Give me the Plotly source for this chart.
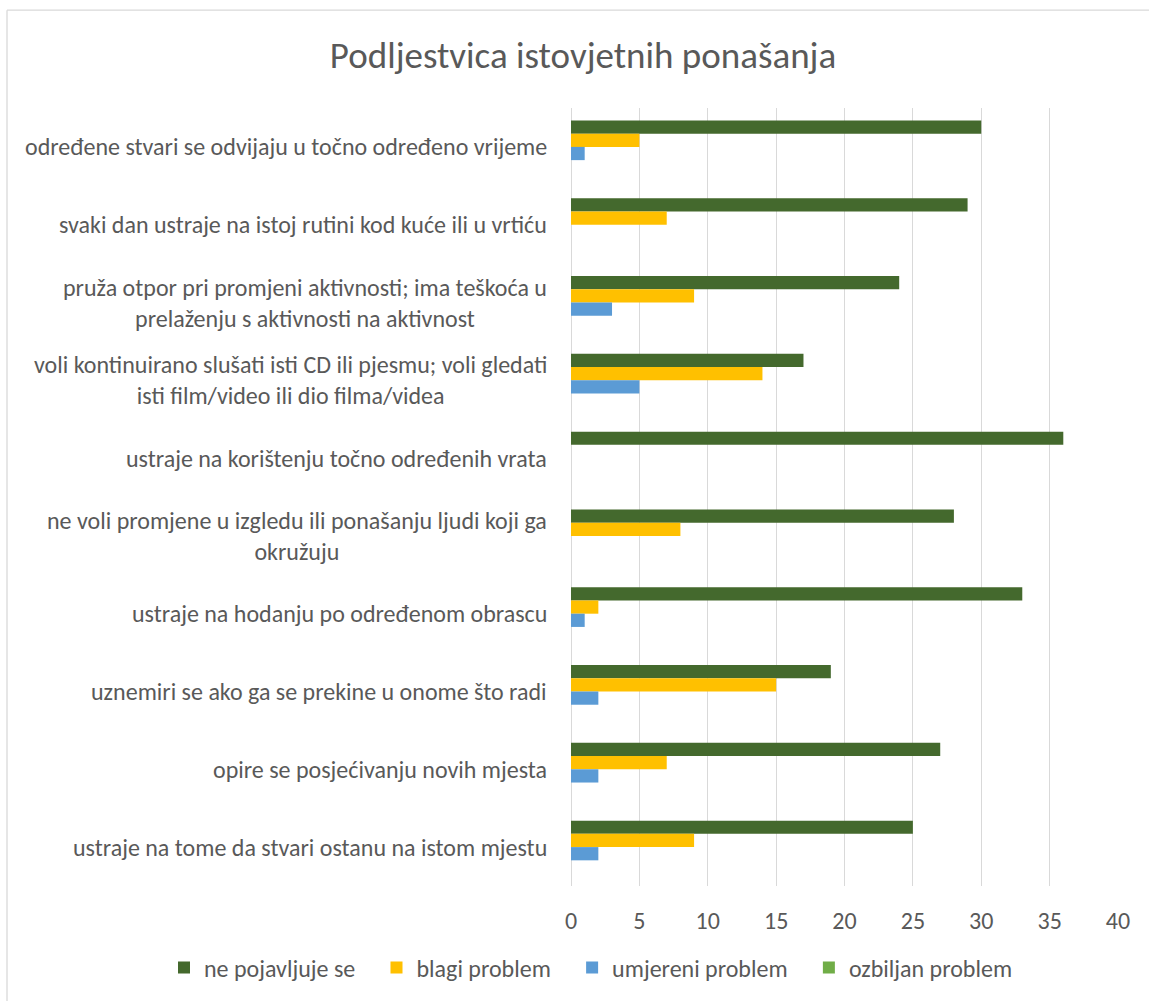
import plotly.graph_objects as go

# ---- data ----
categories = [
    "određene stvari se odvijaju u točno određeno vrijeme",
    "svaki dan ustraje na istoj rutini kod kuće ili u vrtiću",
    "pruža otpor pri promjeni aktivnosti; ima teškoća u<br>prelaženju s aktivnosti na aktivnost",
    "voli kontinuirano slušati isti CD ili pjesmu; voli gledati<br>isti film/video ili dio filma/videa",
    "ustraje na korištenju točno određenih vrata",
    "ne voli promjene u izgledu ili ponašanju ljudi koji ga<br>okružuju",
    "ustraje na hodanju po određenom obrascu",
    "uznemiri se ako ga se prekine u onome što radi",
    "opire se posjećivanju novih mjesta",
    "ustraje na tome da stvari ostanu na istom mjestu",
]
series_names = ["ne pojavljuje se", "blagi problem", "umjereni problem", "ozbiljan problem"]
ne_pojavljuje = [30, 29, 24, 17, 36, 28, 33, 19, 27, 25]
blagi = [5, 7, 9, 14, 0, 8, 2, 15, 7, 9]
umjereni = [1, 0, 3, 5, 0, 0, 1, 2, 2, 2]
ozbiljan = [0, 0, 0, 0, 0, 0, 0, 0, 0, 0]
x_ticks = [0, 5, 10, 15, 20, 25, 30, 35, 40]
title_text = "Podljestvica istovjetnih ponašanja"

colors = ["#44692D", "#FFC000", "#5B9BD5", "#70AD47"]
FONT = "Carlito, Calibri, Lato, sans-serif"
TXT = "#595959"
LEGEND_PAD = "\u00a0" * 3  # wider spacing between legend entries, as in Excel

W, H = 1149, 1001
L, R, T, B = 571, 31, 108, 114

fig = go.Figure()
for name, vals, col in zip(series_names, [ne_pojavljuje, blagi, umjereni, ozbiljan], colors):
    fig.add_trace(go.Bar(
        y=categories, x=vals, name=name + LEGEND_PAD, orientation="h",
        marker=dict(color=col, line=dict(width=0)),
    ))

# category labels (centered multi-line, right-anchored like Excel)
for c in categories:
    fig.add_annotation(
        xref="paper", x=0, yref="y", y=c, text=c, showarrow=False,
        xanchor="right", yanchor="middle", align="center", xshift=-22,
        font=dict(family=FONT, size=24, color=TXT),
    )

pw = W - L - R
ph = H - T - B
# chart outer border (Excel chart area) - only left and top edges are visible
bx = (7 - L) / pw
by = 1 + (T - 10) / ph
fig.add_shape(type="line", xref="paper", yref="paper", x0=bx, x1=bx, y0=-0.5, y1=by,
              line=dict(color="#D9D9D9", width=1.3), layer="below")
fig.add_shape(type="line", xref="paper", yref="paper", x0=bx, x1=1.5, y0=by, y1=by,
              line=dict(color="#D9D9D9", width=1.3), layer="below")

fig.update_layout(
    width=W, height=H,
    margin=dict(l=L, r=R, t=T, b=B, pad=0),
    paper_bgcolor="white", plot_bgcolor="white",
    barmode="group", bargap=0.32, bargroupgap=0,
    title=dict(text=title_text, x=583 / W, xanchor="center", xref="container",
               y=1 - 55 / H, yanchor="middle", yref="container",
               font=dict(family=FONT, size=37, color=TXT)),
    xaxis=dict(range=[0, 40], tickvals=x_ticks, ticktext=[str(v) for v in x_ticks],
               showgrid=True, gridcolor="#D9D9D9", gridwidth=1.3,
               zeroline=True, zerolinecolor="#D9D9D9", zerolinewidth=1.3,
               showline=False, ticks="outside", ticklen=13, tickcolor="rgba(0,0,0,0)",
               tickfont=dict(family=FONT, size=24, color=TXT), fixedrange=True),
    yaxis=dict(autorange="reversed", showticklabels=False, showgrid=False,
               zeroline=False, showline=False, ticks="", fixedrange=True),
    legend=dict(orientation="h", x=(164 - L) / pw, xanchor="left",
                y=-(968 - (H - B)) / ph, yanchor="middle",
                font=dict(family=FONT, size=24, color=TXT),
                traceorder="normal", itemclick=False, itemdoubleclick=False),
    showlegend=True,
)

fig.write_html("out.html", config={"displayModeBar": False},
               post_script="document.body.style.margin='0';")
